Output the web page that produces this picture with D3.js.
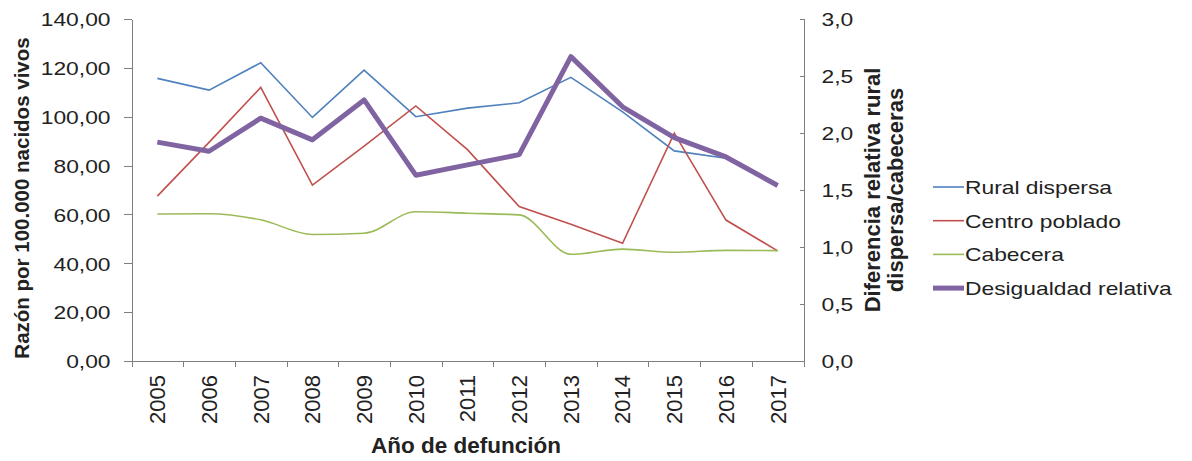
<!DOCTYPE html>
<html>
<head>
<meta charset="utf-8">
<script src="https://cdn.jsdelivr.net/npm/d3@7"></script>
<style>
  body { margin: 0; background: #fff; }
  svg { font-family: "Liberation Sans", Arial, sans-serif; }
  .axis path, .axis line { stroke: #7f7f7f; shape-rendering: crispEdges; }
  .axis text { fill: #222; }
</style>
</head>
<body>
<div id="chart"></div>
<script>
//data
var years = ["2005","2006","2007","2008","2009","2010","2011","2012","2013","2014","2015","2016","2017"];
var ruralDispersa = [115.7, 110.9, 122.1, 99.7, 119.1, 100.0, 103.5, 105.7, 116.1, 102.0, 86.0, 83.0, 72.0];
var centroPoblado = [67.5, 89.5, 112.0, 72.0, 88.0, 104.4, 86.5, 63.2, 56.0, 48.2, 93.3, 57.7, 45.1];
var cabecera = [60.2, 60.3, 57.8, 51.8, 52.3, 61.1, 60.5, 59.8, 43.7, 45.8, 44.5, 45.3, 45.2];
var desigualdad = [1.92, 1.84, 2.13, 1.94, 2.29, 1.63, 1.72, 1.81, 2.67, 2.23, 1.96, 1.79, 1.54];
var leftTicks = [0, 20, 40, 60, 80, 100, 120, 140];
var rightTicks = [0, 0.5, 1.0, 1.5, 2.0, 2.5, 3.0];
var seriesNames = ["Rural dispersa", "Centro poblado", "Cabecera", "Desigualdad relativa"];
var seriesColors = ["#4f81bd", "#c0504d", "#9bbb59", "#8064a2"];

var width = 1192, height = 461;
var plotLeft = 131.5, plotRight = 803.5, plotTop = 19, plotBottom = 361;

var svg = d3.select("#chart")
.append("svg")
.attr("width", width)
.attr("height", height);

//stretch horizontal text a little, the picture is wider than plain Arial
function stretch(sel, k) {
  sel.each(function() {
    var w = this.getComputedTextLength();
    this.setAttribute("textLength", w * k);
    this.setAttribute("lengthAdjust", "spacingAndGlyphs");
  });
}

var comma = function(n) { return function(v) { return v.toFixed(n).replace(".", ","); }; };

//scales
var x = d3.scaleBand().domain(years).range([plotLeft, plotRight]);
var xEdge = d3.scaleLinear().domain([0, years.length]).range([plotLeft, plotRight]);
var y = d3.scaleLinear().domain([0, 140]).range([plotBottom, plotTop]);
var y2 = d3.scaleLinear().domain([0, 3]).range([plotBottom, plotTop]);
var cx = function(d, i) { return x(years[i]) + x.bandwidth() / 2; };

//left axis
var gl = svg.append("g")
.attr("class", "axis")
.attr("transform", "translate(" + plotLeft + ",0)")
.call(d3.axisLeft(y).tickValues(leftTicks).tickFormat(comma(2)).tickSize(8).tickSizeOuter(0).tickPadding(13));
gl.selectAll("text").attr("font-size", 19).attr("dy", "0.36em");
stretch(gl.selectAll("text"), 1.2);

//right axis, ticks point inward
var gr = svg.append("g")
.attr("class", "axis")
.attr("transform", "translate(" + plotRight + ",0)")
.call(d3.axisRight(y2).tickValues(rightTicks).tickFormat(comma(1)).tickSizeInner(-4).tickSizeOuter(-4).tickPadding(18));
gr.selectAll("text").attr("font-size", 19).attr("dy", "0.36em");
stretch(gr.selectAll("text"), 1.2);

//x-axis: tick marks between categories
svg.append("g")
.attr("class", "axis")
.attr("transform", "translate(0," + plotBottom + ")")
.call(d3.axisBottom(xEdge).ticks(years.length).tickFormat("").tickSize(6).tickSizeOuter(0));

//x-axis labels, rotated
var gx = svg.append("g")
.attr("class", "axis")
.attr("transform", "translate(0," + plotBottom + ")")
.call(d3.axisBottom(x).tickSize(0));
gx.select(".domain").remove();
gx.selectAll("text")
.attr("font-size", 22)
.attr("text-anchor", "end")
.attr("transform", "translate(0,14) rotate(-90)")
.attr("x", 0)
.attr("y", 0)
.attr("dy", "0.36em");

//axis titles
svg.append("text")
.attr("transform", "translate(29,198) rotate(-90)")
.attr("text-anchor", "middle")
.attr("font-size", 20.5)
.attr("font-weight", "bold")
.attr("fill", "#222")
.text("Razón por 100.000 nacidos vivos");

svg.append("text")
.attr("transform", "translate(880,190) rotate(-90)")
.attr("text-anchor", "middle")
.attr("font-size", 22)
.attr("font-weight", "bold")
.attr("fill", "#222")
.text("Diferencia relativa rural");

svg.append("text")
.attr("transform", "translate(903,190) rotate(-90)")
.attr("text-anchor", "middle")
.attr("font-size", 22)
.attr("font-weight", "bold")
.attr("fill", "#222")
.text("dispersa/cabeceras");

svg.append("text")
.attr("x", 466)
.attr("y", 453)
.attr("text-anchor", "middle")
.attr("font-size", 22.5)
.attr("font-weight", "bold")
.attr("fill", "#222")
.text("Año de defunción");

//lines
var lineL = d3.line().x(cx).y(function(d) { return y(d); });
var lineSmooth = d3.line().x(cx).y(function(d) { return y(d); }).curve(d3.curveMonotoneX);
var lineR = d3.line().x(cx).y(function(d) { return y2(d); });

svg.append("path").datum(ruralDispersa).attr("d", lineL)
.attr("fill", "none").attr("stroke", seriesColors[0]).attr("stroke-width", 1.6);
svg.append("path").datum(centroPoblado).attr("d", lineL)
.attr("fill", "none").attr("stroke", seriesColors[1]).attr("stroke-width", 1.6);
svg.append("path").datum(cabecera).attr("d", lineSmooth)
.attr("fill", "none").attr("stroke", seriesColors[2]).attr("stroke-width", 1.6);
svg.append("path").datum(desigualdad).attr("d", lineR)
.attr("fill", "none").attr("stroke", seriesColors[3]).attr("stroke-width", 5)
.attr("stroke-linejoin", "round");

//legend
var legend = svg.append("g").attr("transform", "translate(933,187)");
var item = legend.selectAll("g")
.data(seriesNames)
.enter()
.append("g")
.attr("transform", function(d, i) { return "translate(0," + (i * 33.7) + ")"; });
item.append("line")
.attr("x1", 0).attr("x2", 31)
.attr("stroke", function(d, i) { return seriesColors[i]; })
.attr("stroke-width", function(d, i) { return i === 3 ? 5 : 1.6; });
var lt = item.append("text")
.attr("x", 32)
.attr("dy", "0.36em")
.attr("font-size", 19)
.attr("fill", "#222")
.text(function(d) { return d; });
stretch(lt, 1.2);
</script>
</body>
</html>
